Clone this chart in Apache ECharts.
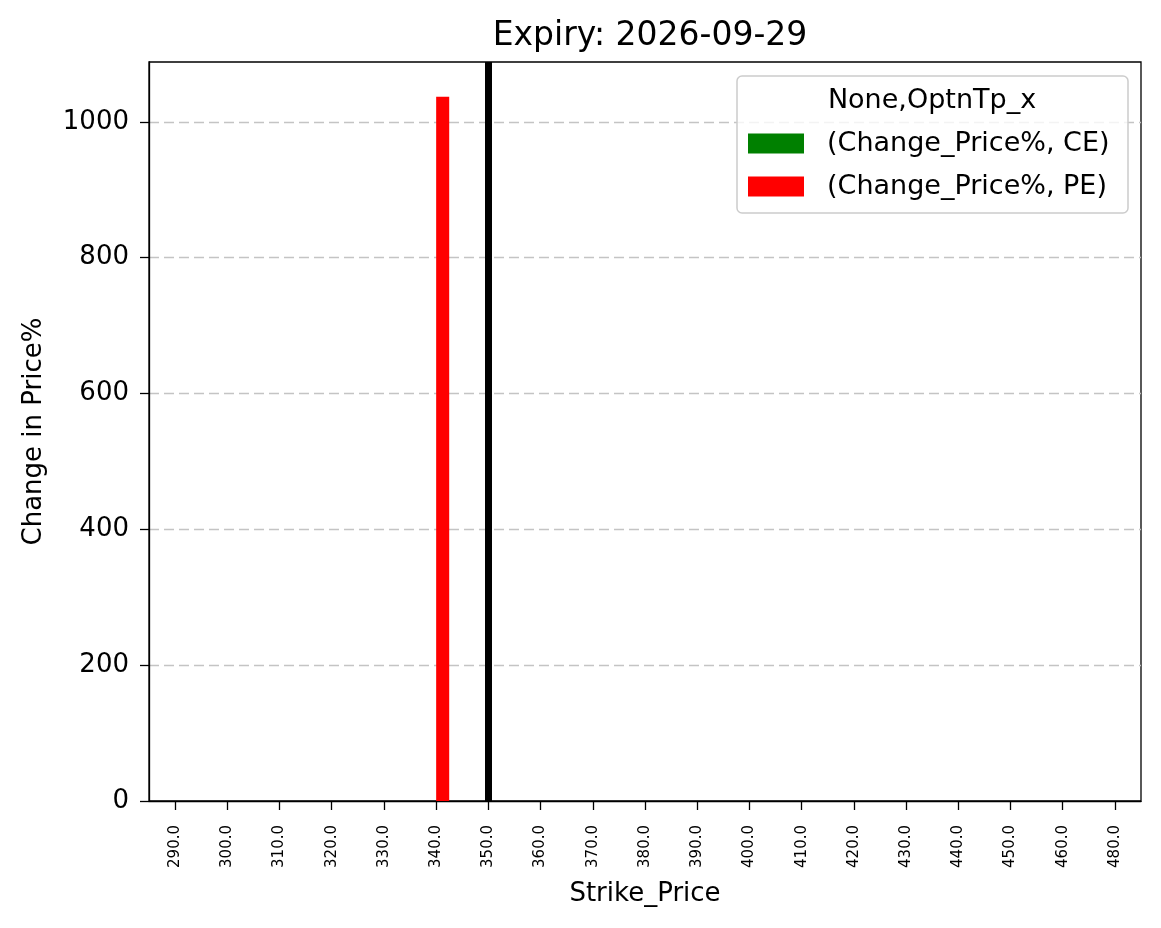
<!DOCTYPE html>
<html>
<head>
<meta charset="utf-8">
<script src="https://cdn.jsdelivr.net/npm/echarts@6/dist/echarts.min.js"></script>
<style>html,body{margin:0;padding:0;background:#fff;}#chart{width:1161px;height:928px;}</style>
</head>
<body>
<div id="chart"></div>
<script>
const strikes = ['290.0','300.0','310.0','320.0','330.0','340.0','350.0','360.0','370.0','380.0','390.0','400.0','410.0','420.0','430.0','440.0','450.0','460.0','480.0'];
const ceChange = [0,0,0,0,0,0,0,0,0,0,0,0,0,0,0,0,0,0,0];
const peChange = [0,0,0,0,0,1037,0,0,0,0,0,0,0,0,0,0,0,0,0];
const atmStrike = '350.0';
const yTicks = [0,200,400,600,800,1000];
const seriesNames = ['(Change_Price%, CE)','(Change_Price%, PE)'];
const legendTitle = 'None,OptnTp_x';
const chartTitle = 'Expiry: 2026-09-29';

const FONT = 'DejaVu Sans';
const chart = echarts.init(document.getElementById('chart'), null, {renderer:'canvas'});
chart.setOption({
  animation: false,
  backgroundColor: '#fff',
  textStyle: {fontFamily: FONT, color: '#000'},
  title: {
    text: chartTitle, left: 645, top: 15, textAlign: 'center',
    textStyle: {fontFamily: FONT, fontSize: 33, fontWeight: 'normal', color: '#000'}
  },
  grid: {left: 149, right: 20, top: 62, bottom: 127, show: true, borderColor: '#000', borderWidth: 1.3, backgroundColor: 'transparent'},
  legend: {
    data: seriesNames, orient: 'vertical', left: 748, top: 130, padding: 0,
    itemWidth: 56, itemHeight: 20, itemGap: 16,
    icon: 'rect',
    textStyle: {fontFamily: FONT, fontSize: 27, color: '#000', padding: [0,0,0,18]},
    z: 110
  },
  graphic: [
    {type: 'rect', z: 100, shape: {x: 737, y: 76, width: 391, height: 137, r: 5},
     style: {fill: 'rgba(255,255,255,0.8)', stroke: '#cccccc', lineWidth: 1.5}},
    {type: 'text', z: 101, x: 932, y: 101,
     style: {text: legendTitle, fontFamily: FONT, fontSize: 27, fill: '#000', textAlign: 'center', textVerticalAlign: 'middle'}}
  ],
  xAxis: {
    type: 'category', data: strikes, boundaryGap: true,
    name: 'Strike_Price', nameLocation: 'middle', nameGap: 80,
    nameTextStyle: {fontFamily: FONT, fontSize: 26, color: '#000'},
    axisLine: {show: true, lineStyle: {color: '#000', width: 1.3}},
    axisTick: {show: true, inside: false, alignWithLabel: true, interval: 0, length: 9, lineStyle: {color: '#000', width: 1.3}},
    axisLabel: {rotate: 90, fontFamily: FONT, fontSize: 15, color: '#000', margin: 24, interval: 0, padding: [6,0,0,0]},
    splitLine: {show: false}
  },
  yAxis: {
    type: 'value', min: 0, max: 1088, interval: 200,
    name: 'Change in Price%', nameLocation: 'middle', nameGap: 102,
    nameTextStyle: {fontFamily: FONT, fontSize: 26, color: '#000'},
    axisLine: {show: true, lineStyle: {color: '#000', width: 1.3}},
    axisTick: {show: true, length: 9, lineStyle: {color: '#000', width: 1.3}},
    axisLabel: {fontFamily: FONT, fontSize: 26, color: '#000', margin: 20, showMaxLabel: false,
      formatter: v => (yTicks.indexOf(v) >= 0 ? String(v) : '')},
    splitLine: {show: true, showMinLine: false, showMaxLine: false, lineStyle: {color: '#c4c4c4', width: 1.3, type: [10, 5]}}
  },
  series: [
    {name: seriesNames[0], type: 'bar', data: ceChange, barWidth: '25%', barGap: '0%', itemStyle: {color: '#008000'}},
    {name: seriesNames[1], type: 'bar', data: peChange, barWidth: '25%', barGap: '0%', itemStyle: {color: '#ff0000'}},
    {name: 'ATM', type: 'line', data: [], z: 20,
     markLine: {silent: true, symbol: ['none','none'], label: {show: false},
       lineStyle: {color: '#000', width: 7, type: 'solid'},
       data: [{xAxis: atmStrike}]}}
  ]
});
</script>
</body>
</html>
